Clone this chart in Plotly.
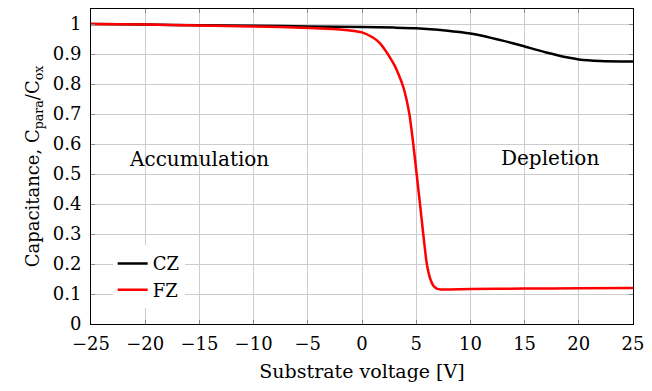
import plotly.graph_objects as go

# Data
cz_v = [-25, -20, -15, -10, -5, 0, 3, 5, 7, 9, 10, 12, 14, 15, 17, 19, 20, 22, 25]
cz_c = [1.0, 0.998, 0.996, 0.994, 0.992, 0.990, 0.988, 0.986, 0.981, 0.973, 0.968, 0.953,
        0.935, 0.925, 0.905, 0.888, 0.882, 0.877, 0.875]

fz_v = [-25, -20, -15, -10, -5, -2, 0, 1, 1.6, 2.1, 2.5, 3.0, 3.4, 3.85, 4.37, 4.73, 5.04,
        5.35, 5.65, 5.98, 6.3, 6.6, 6.9, 7.3, 8, 10, 15, 20, 25]
fz_c = [1.0, 0.998, 0.995, 0.992, 0.987, 0.982, 0.972, 0.955, 0.938, 0.915, 0.893, 0.862,
        0.830, 0.785, 0.700, 0.600, 0.500, 0.400, 0.300, 0.200, 0.150, 0.127, 0.118, 0.115,
        0.115, 0.117, 0.118, 0.119, 0.120]

x_ticks = [-25, -20, -15, -10, -5, 0, 5, 10, 15, 20, 25]
x_tick_text = ["\u221225", "\u221220", "\u221215", "\u221210", "\u22125", "0", "5", "10", "15", "20", "25"]
y_ticks = [0, 0.1, 0.2, 0.3, 0.4, 0.5, 0.6, 0.7, 0.8, 0.9, 1]
y_tick_text = ["0", "0.1", "0.2", "0.3", "0.4", "0.5", "0.6", "0.7", "0.8", "0.9", "1"]

FONT = "DejaVu Serif"

fig = go.Figure()
fig.add_trace(go.Scatter(x=cz_v, y=cz_c, mode="lines", name="CZ",
                         line=dict(color="black", width=2.5, shape="spline", smoothing=0.6)))
fig.add_trace(go.Scatter(x=fz_v, y=fz_c, mode="lines", name="FZ",
                         line=dict(color="#ff0000", width=2.5, shape="spline", smoothing=0.6)))

axis_common = dict(showline=True, linecolor="black", linewidth=1, mirror="ticks",
                   ticks="inside", ticklen=4, tickcolor="#888888",
                   showgrid=True, gridcolor="#cccccc", gridwidth=1, zeroline=False,
                   tickfont=dict(family=FONT, size=18, color="black"))

fig.update_xaxes(range=[-25, 25], tickvals=x_ticks, ticktext=x_tick_text, ticklabelstandoff=3,
                 title=dict(text="Substrate voltage [V]", font=dict(family=FONT, size=19, color="black"),
                            standoff=12),
                 **axis_common)
fig.update_yaxes(range=[0, 1.05], tickvals=y_ticks, ticktext=y_tick_text, ticklabelstandoff=5,
                 title=dict(text="Capacitance, C<sub>para</sub>/C<sub>ox</sub>",
                            font=dict(family=FONT, size=18, color="black"), standoff=8),
                 **axis_common)

fig.add_annotation(x=-15.0, y=0.55, text="Accumulation", showarrow=False,
                   font=dict(family=FONT, size=20, color="black"))
fig.add_annotation(x=17.3, y=0.555, text="Depletion", showarrow=False,
                   font=dict(family=FONT, size=20, color="black"))

fig.update_layout(
    width=652, height=391,
    margin=dict(l=91, r=15, t=8, b=67),
    paper_bgcolor="white", plot_bgcolor="white",
    showlegend=True,
    legend=dict(x=0.04, y=0.25, xanchor="left", yanchor="top", bgcolor="white",
                font=dict(family=FONT, size=18, color="black"), tracegroupgap=0,
                itemwidth=30),
)

fig.write_html("out.html")
